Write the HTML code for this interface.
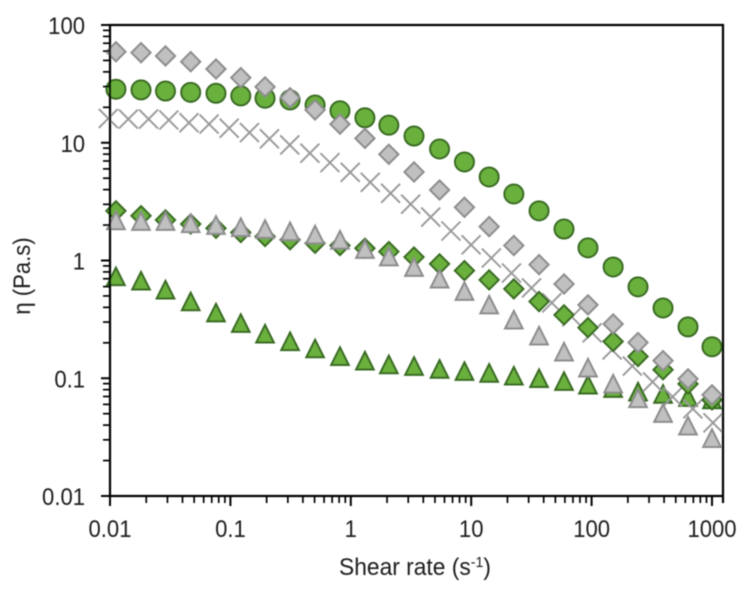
<!DOCTYPE html>
<html lang="en">
<head>
<meta charset="utf-8">
<title>Viscosity vs shear rate</title>
<style>
html,body{margin:0;padding:0;background:#fff;}
#chart{display:block;width:748px;height:592px;font-family:"Liberation Sans",sans-serif;}
text{fill:#1c1c1c;}
</style>
</head>
<body>
<svg id="chart" xmlns="http://www.w3.org/2000/svg" width="748" height="592" viewBox="0 0 748 592">
  <defs><filter id="soft" x="-5%" y="-5%" width="110%" height="110%"><feGaussianBlur stdDeviation="0.4"/></filter></defs>
  <g id="root" filter="url(#soft)">
    <g id="marks"></g>
    <g id="axes"></g>
    <text transform="translate(415,575) scale(0.95,1)" text-anchor="middle" font-size="24">Shear rate (s<tspan font-size="15" dy="-8">-1</tspan><tspan dy="8">)</tspan></text>
    <text transform="translate(30,276) rotate(-90) scale(0.92,1)" text-anchor="middle" font-size="24">η (Pa.s)</text>
  </g>
</svg>
<script>
const xTickLabels = ["0.01", "0.1", "1", "10", "100", "1000"];
const yTickLabels = ["0.01", "0.1", "1", "10", "100"];
const shearRates = [0.0112,0.0181,0.0289,0.0468,0.0759,0.122,0.194,0.313,0.505,0.813,1.31,2.07,3.35,5.46,8.79,14.1,22.6,36.6,59.0,93.3,151,243,392,632,1000];
const crossRates = [0.00968,0.0142,0.0209,0.0308,0.0453,0.0665,0.0977,0.144,0.211,0.311,0.457,0.671,0.989,1.45,2.14,3.14,4.61,6.79,9.98,14.7,21.6,31.7,46.7,68.5,101,148,218,321,471,693,1019];
const greenCircleValues = [28.5,28.1,27.5,26.8,26.3,25.0,23.9,23.1,20.9,18.7,16.3,14.1,11.4,8.85,6.87,5.12,3.67,2.64,1.85,1.28,0.881,0.597,0.395,0.273,0.185];
const greenTriangleValues = [0.733,0.673,0.565,0.449,0.361,0.294,0.239,0.206,0.179,0.154,0.141,0.131,0.127,0.120,0.115,0.111,0.105,0.100,0.0946,0.0881,0.0825,0.0769,0.0735,0.0692,0.0660];
const grayCrossValues = [16.1,15.9,15.9,15.6,14.8,14.4,13.3,12.2,10.8,9.58,8.15,6.78,5.61,4.61,3.72,3.01,2.34,1.78,1.36,1.05,0.783,0.585,0.437,0.332,0.243,0.174,0.127,0.0931,0.0695,0.0550,0.0418];
const greenDiamondValues = [2.64,2.40,2.21,2.04,1.88,1.73,1.60,1.50,1.40,1.34,1.27,1.19,1.07,0.935,0.820,0.684,0.574,0.448,0.345,0.269,0.205,0.153,0.118,0.0895,0.0655];
const grayDiamondValues = [59.3,58.2,54.6,48.8,42.3,35.7,29.8,24.1,19.0,14.4,10.9,7.98,5.65,3.97,2.83,1.94,1.34,0.923,0.632,0.420,0.289,0.201,0.141,0.0988,0.0723];
const grayTriangleValues = [2.19,2.16,2.16,2.07,2.00,1.92,1.85,1.77,1.66,1.50,1.25,1.08,0.879,0.700,0.550,0.422,0.314,0.230,0.168,0.123,0.0899,0.0675,0.0506,0.0395,0.0310];

const NS = "http://www.w3.org/2000/svg";
const plotLeft = 110, plotRight = 723, plotTop = 25, plotBottom = 496;
const xDecade = 120.4, yDecade = 117.75;
const xScale = v => plotLeft + (Math.log10(v) + 2) * xDecade;
const yScale = v => plotBottom - (Math.log10(v) + 2) * yDecade;
const GREEN = "#6bb03d", GREEN_EDGE = "#386a24", GRAY = "#c0c0c1", GRAY_EDGE = "#8c8c8c";
const marks = document.getElementById("marks");
const axes = document.getElementById("axes");

function shape(tag, attrs, parent) {
  const el = document.createElementNS(NS, tag);
  for (const k in attrs) el.setAttribute(k, attrs[k]);
  parent.appendChild(el);
  return el;
}
function drawCircle(x, y, g) {
  return shape("circle", {cx: x, cy: y, r: 9.5, fill: GREEN, stroke: GREEN_EDGE, "stroke-width": 2}, g);
}
function drawDiamond(x, y, g, fill, edge) {
  const r = 9.6;
  return shape("polygon", {points: `${x},${y-r} ${x+r},${y} ${x},${y+r} ${x-r},${y}`, fill: fill, stroke: edge, "stroke-width": 2}, g);
}
function drawTriangle(x, y, g, fill, edge) {
  const w = 8.8, h = 8.8;
  return shape("polygon", {points: `${x},${y-h} ${x+w},${y+h} ${x-w},${y+h}`, fill: fill, stroke: edge, "stroke-width": 2, "stroke-linejoin": "miter"}, g);
}
function drawCross(x, y, g) {
  const r = 9.5;
  return shape("path", {d: `M${x-r} ${y-r}L${x+r} ${y+r}M${x-r} ${y+r}L${x+r} ${y-r}`, fill: "none", stroke: "#999999", "stroke-width": 1.9}, g);
}

const groupGreenTriangles = shape("g", {}, marks);


greenTriangleValues.forEach((v, i) => {
  const el = drawTriangle(xScale(shearRates[i]), yScale(v), groupGreenTriangles, GREEN, GREEN_EDGE);
  
  
});

const groupGreenCircles = shape("g", {}, marks);


greenCircleValues.forEach((v, i) => {
  const el = drawCircle(xScale(shearRates[i]), yScale(v), groupGreenCircles);
  
  
});

const groupCrosses = shape("g", {}, marks);


grayCrossValues.forEach((v, i) => {
  const el = drawCross(xScale(crossRates[i]), yScale(v), groupCrosses);
  
  
});

const groupGreenDiamonds = shape("g", {}, marks);


greenDiamondValues.forEach((v, i) => {
  const el = drawDiamond(xScale(shearRates[i]), yScale(v), groupGreenDiamonds, GREEN, GREEN_EDGE);
  
  
});

const groupGrayDiamonds = shape("g", {}, marks);


grayDiamondValues.forEach((v, i) => {
  const el = drawDiamond(xScale(shearRates[i]), yScale(v), groupGrayDiamonds, GRAY, GRAY_EDGE);
  
  
});

const groupGrayTriangles = shape("g", {}, marks);


grayTriangleValues.forEach((v, i) => {
  const el = drawTriangle(xScale(shearRates[i]), yScale(v), groupGrayTriangles, GRAY, GRAY_EDGE);
  
  
});

const frame = shape("path", {d: `M${plotLeft} ${plotBottom}L${plotLeft} ${plotTop}L${plotRight} ${plotTop}L${plotRight} ${plotBottom+7}M${plotLeft} ${plotBottom}L${plotRight} ${plotBottom}`, fill: "none", stroke: "#000", "stroke-width": 2.2}, axes);



xTickLabels.forEach((label, i) => {
  const base = Number(label);
  const x = xScale(base);
  const major = shape("line", {x1: x, x2: x, y1: plotBottom, y2: plotBottom + 10, stroke: "#000", "stroke-width": 2}, axes);
  
  
  const t = shape("text", {transform: `translate(${x},537) scale(0.92,1)`, "text-anchor": "middle", "font-size": 24}, axes);
  t.textContent = label;
  
  
  if (i < xTickLabels.length - 1) {
    for (let m = 2; m <= 9; m++) {
      const mx = xScale(base * m);
      const minor = shape("line", {x1: mx, x2: mx, y1: plotBottom, y2: plotBottom + 7, stroke: "#000", "stroke-width": 1.7}, axes);
      
      
    }
  }
});

yTickLabels.forEach((label, i) => {
  const base = Number(label);
  const y = yScale(base);
  const major = shape("line", {x1: plotLeft - 9, x2: plotLeft, y1: y, y2: y, stroke: "#000", "stroke-width": 2}, axes);
  
  
  const t = shape("text", {transform: `translate(85,${y + 9}) scale(0.92,1)`, "text-anchor": "end", "font-size": 24}, axes);
  t.textContent = label;
  
  
  if (i < yTickLabels.length - 1) {
    for (let m = 2; m <= 9; m++) {
      const my = yScale(base * m);
      const minor = shape("line", {x1: plotLeft - 7, x2: plotLeft, y1: my, y2: my, stroke: "#000", "stroke-width": 1.7}, axes);
      
      
    }
  }
});
</script>
</body>
</html>
